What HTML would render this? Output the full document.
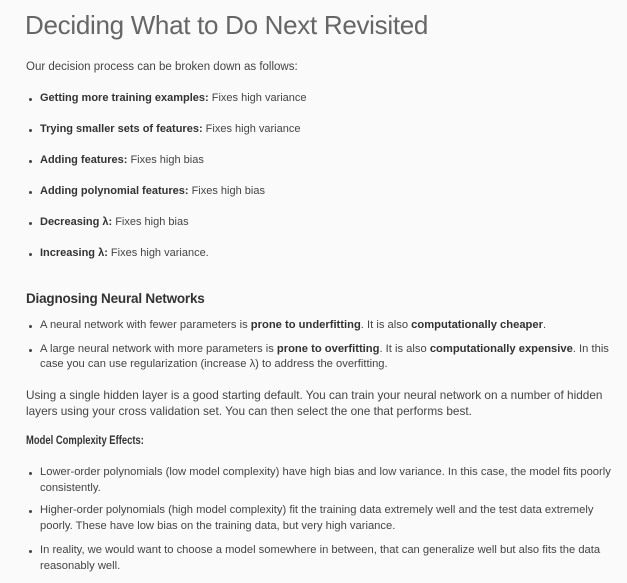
<!DOCTYPE html>
<html><head><meta charset="utf-8"><style>
body{margin:0;width:627px;height:583px;background:#fafafa;overflow:hidden;position:relative;font-family:"Liberation Sans",Arial,sans-serif;color:#444;}
.l{position:absolute;white-space:nowrap;font-size:11px;line-height:14px;}
.w{font-size:11.2px;}
.b{position:absolute;left:29px;width:3px;height:3px;border-radius:50%;background:#444;}
.s{color:#333;font-weight:bold;}
h1{position:absolute;left:25px;top:10px;margin:0;font-weight:normal;font-size:26px;color:#666;white-space:nowrap;letter-spacing:-0.3px;}
</style></head><body>
<h1>Deciding What to Do Next Revisited</h1>
<div class="l" style="left:26px;top:60px;font-size:11.5px">Our decision process can be broken down as follows:</div>

<div class="b" style="top:98px"></div>
<div class="l" style="left:40px;top:91px"><span class="s">Getting more training examples:</span> Fixes high variance</div>
<div class="b" style="top:129px"></div>
<div class="l" style="left:40px;top:122px"><span class="s">Trying smaller sets of features:</span> Fixes high variance</div>
<div class="b" style="top:160px"></div>
<div class="l" style="left:40px;top:153px"><span class="s">Adding features:</span> Fixes high bias</div>
<div class="b" style="top:191px"></div>
<div class="l" style="left:40px;top:184px"><span class="s">Adding polynomial features:</span> Fixes high bias</div>
<div class="b" style="top:222px"></div>
<div class="l" style="left:40px;top:215px"><span class="s">Decreasing λ:</span> Fixes high bias</div>
<div class="b" style="top:253px"></div>
<div class="l" style="left:40px;top:246px"><span class="s">Increasing λ:</span> Fixes high variance.</div>

<div class="l" style="left:26px;top:291px;font-size:13.5px;line-height:16px;font-weight:bold;color:#333;letter-spacing:-0.2px">Diagnosing Neural Networks</div>
<div class="b" style="top:325px"></div>
<div class="l w" style="left:40px;top:318px">A neural network with fewer parameters is <span class="s">prone to underfitting</span>. It is also <span class="s">computationally cheaper</span>.</div>
<div class="b" style="top:349px"></div>
<div class="l w" style="left:40px;top:342px">A large neural network with more parameters is <span class="s">prone to overfitting</span>. It is also <span class="s">computationally expensive</span>. In this</div>
<div class="l w" style="left:40px;top:357px">case you can use regularization (increase λ) to address the overfitting.</div>

<div class="l" style="left:26px;top:388px;font-size:11.8px">Using a single hidden layer is a good starting default. You can train your neural network on a number of hidden</div>
<div class="l" style="left:26px;top:404px;font-size:11.8px">layers using your cross validation set. You can then select the one that performs best.</div>

<div class="l" style="left:26px;top:434px;font-size:11.5px;font-weight:bold;color:#333;transform:scaleX(0.82);transform-origin:left center">Model Complexity Effects:</div>
<div class="b" style="top:472px"></div>
<div class="l w" style="left:40px;top:465px">Lower-order polynomials (low model complexity) have high bias and low variance. In this case, the model fits poorly</div>
<div class="l w" style="left:40px;top:481px">consistently.</div>
<div class="b" style="top:510px"></div>
<div class="l w" style="left:40px;top:503px">Higher-order polynomials (high model complexity) fit the training data extremely well and the test data extremely</div>
<div class="l w" style="left:40px;top:519px">poorly. These have low bias on the training data, but very high variance.</div>
<div class="b" style="top:550px"></div>
<div class="l w" style="left:40px;top:543px">In reality, we would want to choose a model somewhere in between, that can generalize well but also fits the data</div>
<div class="l w" style="left:40px;top:559px">reasonably well.</div>
</body></html>
